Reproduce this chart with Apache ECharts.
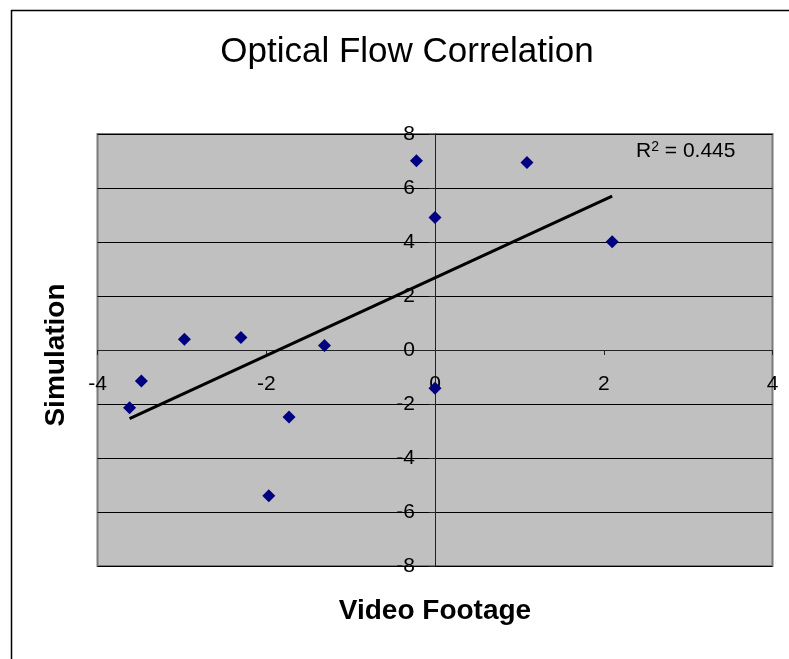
<!DOCTYPE html>
<html>
<head>
<meta charset="utf-8">
<script src="https://cdn.jsdelivr.net/npm/echarts@6/dist/echarts.min.js"></script>
<style>
html,body{margin:0;padding:0;background:#fff;}
#c{width:789px;height:659px;}
</style>
</head>
<body>
<div id="c"></div>
<script>
// Data
const videoFootage = [-0.22, 0.0, -2.97, -2.30, -1.31, 1.09, 2.10, -3.48, -3.62, -1.73, -1.97, 0.0];
const simulation   = [7.01, 4.91, 0.40, 0.46, 0.17, 6.94, 4.01, -1.15, -2.14, -2.48, -5.40, -1.42];
const xTicks = [-4, -2, 0, 2, 4];
const yTicks = [-8, -6, -4, -2, 0, 2, 4, 6, 8];
const titleText = 'Optical Flow Correlation';
const xName = 'Video Footage';
const yName = 'Simulation';
const r2Label = '0.445';

// Linear least-squares trendline through the data
const n = videoFootage.length;
const mx = videoFootage.reduce((a, b) => a + b, 0) / n;
const my = simulation.reduce((a, b) => a + b, 0) / n;
let sxy = 0, sxx = 0;
for (let i = 0; i < n; i++) {
  sxy += (videoFootage[i] - mx) * (simulation[i] - my);
  sxx += (videoFootage[i] - mx) * (videoFootage[i] - mx);
}
const slope = sxy / sxx;
const intercept = my - slope * mx;
const xMin = Math.min(...videoFootage), xMax = Math.max(...videoFootage);
const trend = [[xMin, intercept + slope * xMin], [xMax, intercept + slope * xMax]];

const points = videoFootage.map((x, i) => [x, simulation[i]]);
const FONT = '"Liberation Sans", Arial, sans-serif';

// grid geometry
const G = {left: 97.5, right: 16.5, top: 134, bottom: 93};
const W = 789, H = 659;
const gw = W - G.left - G.right, gh = H - G.top - G.bottom;
const xMinAx = xTicks[0], xMaxAx = xTicks[xTicks.length - 1];
const yMinAx = yTicks[0], yMaxAx = yTicks[yTicks.length - 1];
// shift axes so they cross at zero
const yAxisOffset = -gw * (0 - xMinAx) / (xMaxAx - xMinAx);
const xAxisOffset = -gh * (0 - yMinAx) / (yMaxAx - yMinAx);

const chart = echarts.init(document.getElementById('c'), null, {renderer: 'canvas'});
chart.setOption({
  animation: false,
  backgroundColor: '#fff',
  grid: {
    left: G.left, right: G.right, top: G.top, bottom: G.bottom,
    show: true, backgroundColor: '#C0C0C0', borderColor: '#7a7a7a', borderWidth: 2
  },
  xAxis: {
    type: 'value', min: xMinAx, max: xMaxAx, interval: 2, position: 'bottom', offset: xAxisOffset,
    axisLine: {show: true, onZero: false, lineStyle: {color: '#222', width: 1}},
    axisTick: {show: true, length: 5, lineStyle: {color: '#222'}},
    axisLabel: {show: true, color: '#000', fontSize: 21, fontFamily: FONT, margin: 24},
    splitLine: {show: false}
  },
  yAxis: {
    type: 'value', min: yMinAx, max: yMaxAx, interval: 2, position: 'left', offset: yAxisOffset,
    axisLine: {show: true, onZero: false, lineStyle: {color: '#222', width: 1}},
    axisTick: {show: true, length: 6, lineStyle: {color: '#222'}},
    axisLabel: {show: true, color: '#000', fontSize: 21, fontFamily: FONT, margin: 20},
    splitLine: {show: true, lineStyle: {color: '#000', width: 1}}
  },
  series: [
    {
      type: 'line', data: trend, symbol: 'none', silent: true,
      lineStyle: {color: '#000', width: 3}, z: 2
    },
    {
      type: 'scatter', data: points, symbol: 'diamond', symbolSize: [13, 13],
      itemStyle: {color: '#000080', opacity: 1}, z: 3
    }
  ],
  graphic: [
    {type: 'rect', left: 9, top: 8, z: -10, silent: true,
     shape: {x: 0, y: 0, width: 800, height: 700},
     style: {fill: 'none', stroke: '#000', lineWidth: 1.5}},
    {type: 'text', z: 10, x: 407, y: 52,
     style: {text: titleText, font: '35px ' + FONT, fill: '#000', align: 'center', verticalAlign: 'middle'}},
    {type: 'text', z: 10, x: 435, y: 611,
     style: {text: xName, font: 'bold 28px ' + FONT, fill: '#000', align: 'center', verticalAlign: 'middle'}},
    {type: 'text', z: 10, x: 56, y: 355, rotation: Math.PI / 2,
     style: {text: yName, font: 'bold 28px ' + FONT, fill: '#000', align: 'center', verticalAlign: 'middle'}},
    {type: 'text', z: 10, x: 636, y: 151,
     style: {
       text: '{r|R}{s|2}{r| = ' + r2Label + '}',
       verticalAlign: 'middle',
       rich: {
         r: {fontSize: 21, fontFamily: FONT, color: '#000'},
         s: {fontSize: 14, fontFamily: FONT, color: '#000', verticalAlign: 'top', padding: [0, 0, 8, 0]}
       }
     }}
  ]
});
</script>
</body>
</html>
